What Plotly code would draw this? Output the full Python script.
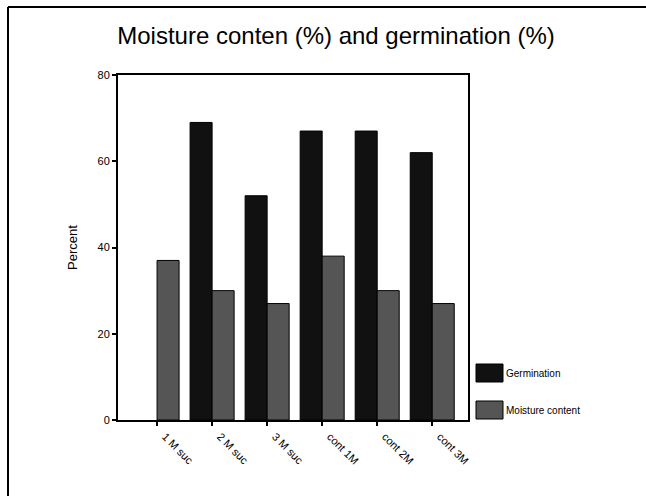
import plotly.graph_objects as go

categories = ["1 M suc", "2 M suc", "3 M suc", "cont 1M", "cont 2M", "cont 3M"]
germination = [0, 69, 52, 67, 67, 62]
moisture = [37, 30, 27, 38, 30, 27]
y_ticks = [0, 20, 40, 60, 80]
series_names = ["Germination", "Moisture content"]
series_colors = ["#111111", "#555555"]

W, H = 646, 496
L, R, T, B = 118, 468, 75, 420

def px(x):
    return (x - L) / (R - L)

def py(y):
    return (B - y) / (B - T)

fig = go.Figure()
for name, vals, col in zip(series_names, [germination, moisture], series_colors):
    fig.add_trace(go.Bar(
        x=categories, y=vals, name=name,
        marker=dict(color=col,
                    line=dict(color="#000000", width=[1 if v else 0 for v in vals])),
        showlegend=False,
    ))

fig.update_layout(
    width=W, height=H,
    margin=dict(l=L, r=W - R, t=T, b=H - B, pad=0),
    paper_bgcolor="white", plot_bgcolor="white",
    barmode="group", bargap=0.2, bargroupgap=0,
    font=dict(family="Liberation Sans, Arial, sans-serif", color="#000000"),
    title=dict(text="Moisture conten (%) and germination (%)",
               x=336 / W, xanchor="center", y=1 - 36 / H, yanchor="middle",
               font=dict(size=24)),
    xaxis=dict(
        type="category", range=[-0.71, 5.65],
        showline=True, linecolor="black", linewidth=2, mirror=True,
        ticks="outside", ticklen=4, tickcolor="black", tickwidth=2,
        tickangle=45, tickfont=dict(size=11), showgrid=False,
        ticklabelshift=8,
    ),
    yaxis=dict(
        range=[0, 80], tickvals=y_ticks,
        showline=True, linecolor="black", linewidth=2, mirror=True,
        ticks="outside", ticklen=4, tickcolor="black", tickwidth=2,
        tickfont=dict(size=11), showgrid=False, zeroline=False,
        title=dict(text="Percent", font=dict(size=13), standoff=17),
    ),
)

# legend drawn as swatches + labels
legend_tops = [364, 401]
for name, col, top in zip(series_names, series_colors, legend_tops):
    fig.add_shape(type="rect", xref="paper", yref="paper",
                  x0=px(476), x1=px(503), y0=py(top), y1=py(top + 18),
                  fillcolor=col, line=dict(color="black", width=1))
    fig.add_annotation(xref="paper", yref="paper", x=px(504), y=py(top + 9),
                       xanchor="left", yanchor="middle", showarrow=False,
                       text=name, font=dict(size=10))

# outer frame of the picture (top and left edges)
fig.add_shape(type="line", xref="paper", yref="paper",
              x0=px(8), y0=py(7), x1=px(646), y1=py(7),
              line=dict(color="black", width=2))
fig.add_shape(type="line", xref="paper", yref="paper",
              x0=px(8), y0=py(7), x1=px(8), y1=py(496),
              line=dict(color="black", width=2))

fig.write_html("out.html", config={"displayModeBar": False},
               post_script="document.body.style.margin='0';")
